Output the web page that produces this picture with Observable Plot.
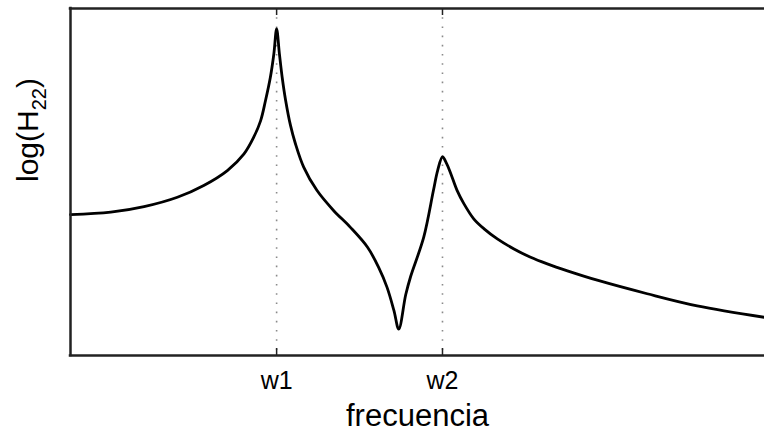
<!DOCTYPE html>
<html><head><meta charset="utf-8">
<script src="https://cdn.jsdelivr.net/npm/d3@7"></script>
<script src="https://cdn.jsdelivr.net/npm/@observablehq/plot@0.6"></script>
<style>body{margin:0;background:#fff;}</style>
</head><body><div id="chart"></div>
<script>
// frequency (arbitrary units) and log|H22| (arbitrary units)
const freq = [0, 0.58, 1.06, 1.54, 1.92, 2.26, 2.50, 2.64, 2.74, 2.81, 2.88, 2.93, 2.97, 3.01, 3.05, 3.10, 3.17, 3.24, 3.36, 3.55, 3.79, 4.03, 4.28, 4.44, 4.56, 4.66, 4.73, 4.83, 4.90, 5.09, 5.23, 5.29, 5.36, 5.42, 5.48, 5.57, 5.67, 5.81, 5.96, 6.15, 6.39, 6.63, 6.87, 7.16, 7.59, 8.31, 9.03, 10];
const logH = [4.06, 4.13, 4.29, 4.56, 4.90, 5.33, 5.81, 6.29, 6.77, 7.35, 8.02, 8.69, 9.41, 8.70, 8.02, 7.35, 6.63, 6.11, 5.43, 4.76, 4.18, 3.70, 3.12, 2.54, 1.97, 1.30, 0.76, 1.75, 2.27, 3.41, 4.76, 5.33, 5.72, 5.53, 5.24, 4.76, 4.37, 3.94, 3.65, 3.36, 3.07, 2.83, 2.64, 2.44, 2.17, 1.78, 1.43, 1.10];
const resonances = [2.97, 5.36];
const resonanceLabels = ["w1", "w2"];
const xLabel = "frecuencia";
const yLabelParts = ["log(H", "22", ")"];
const xDomain = [0, 10];
const yDomain = [0, 10];

const curve = freq.map((f, i) => ({f, h: logH[i]}));
const labelOf = new Map(resonances.map((r, i) => [r, resonanceLabels[i]]));
const tickLen = (yDomain[1] - yDomain[0]) * 7 / 347;
const axisColor = "#222";

const plot = Plot.plot({
  width: 764, height: 438,
  marginLeft: 70, marginRight: 0, marginTop: 8, marginBottom: 83,
  style: {fontFamily: "'Liberation Sans', Arial, sans-serif", fontSize: "25px", color: "#000", background: "#fff"},
  x: {domain: xDomain, label: null},
  y: {domain: yDomain, axis: null},
  marks: [
    Plot.ruleX(resonances, {stroke: "#8a8a8a", strokeWidth: 1.6, strokeDasharray: "1.6,7.6"}),
    Plot.ruleX(resonances, {y1: yDomain[0], y2: yDomain[0] + tickLen, stroke: axisColor, strokeWidth: 1.5}),
    Plot.ruleX(resonances, {y1: yDomain[1] - tickLen, y2: yDomain[1], stroke: axisColor, strokeWidth: 1.5}),
    Plot.line(curve, {x: "f", y: "h", curve: "catmull-rom", stroke: "#000", strokeWidth: 2.8}),
    Plot.ruleY([yDomain[0], yDomain[1]], {stroke: axisColor, strokeWidth: 2.5, strokeLinecap: "square"}),
    Plot.ruleX([xDomain[0]], {stroke: axisColor, strokeWidth: 2.5, strokeLinecap: "square"}),
    Plot.axisX(resonances, {tickSize: 0, tickPadding: 16, tickFormat: d => labelOf.get(d), fontSize: 25}),
    Plot.text([xLabel], {text: d => d, frameAnchor: "bottom", lineAnchor: "bottom", dy: 70, fontSize: 31}),
    Plot.text([yLabelParts.join("")], {text: d => d, frameAnchor: "left", rotate: -90, lineAnchor: "bottom", dx: -33, fontSize: 30})
  ]
});
document.getElementById("chart").appendChild(plot);

// add subscript to the y label
const yText = d3.select(plot).selectAll("text").filter(function() { return this.textContent === yLabelParts.join(""); });
yText.each(function() {
  const t = d3.select(this);
  t.text(null);
  t.append("tspan").text(yLabelParts[0]);
  t.append("tspan").attr("font-size", 20).attr("dy", 8).text(yLabelParts[1]);
  t.append("tspan").attr("dy", -8).text(yLabelParts[2]);
});
</script>
</body></html>
